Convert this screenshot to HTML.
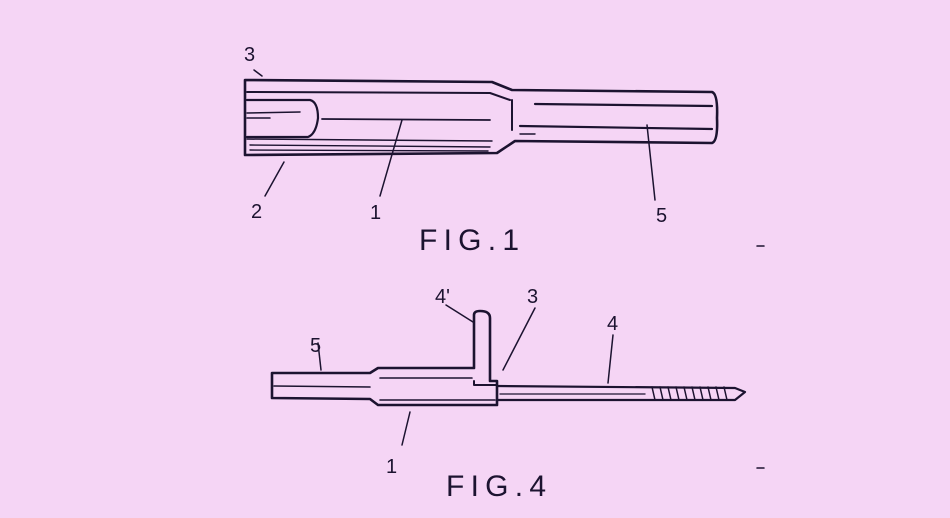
<!DOCTYPE html>
<html><head><style>
html,body{margin:0;padding:0;background:#f5d5f5;}
svg{display:block}
text{font-family:"Liberation Sans","DejaVu Sans",sans-serif;fill:#1c1330}
</style></head><body>
<svg width="950" height="518" viewBox="0 0 950 518" xmlns="http://www.w3.org/2000/svg">
<rect width="950" height="518" fill="#f5d5f5"/>
<g fill="none" stroke="#1c1330" stroke-width="2.6" stroke-linejoin="round" stroke-linecap="round">
<path d="M245,80 L492,82 L512,90 L712,92 Q718,94 717,118 Q718,141 712,143 L515,141 L497,153 L245,155 Z"/>
<path d="M247,92 L490,93 L510,100" stroke-width="2"/>
<path d="M247,100 L310,100 Q318,102 318,118 Q316,134 308,137 L247,137" stroke-width="2.2"/>
<path d="M247,113 L300,112" stroke-width="1.5"/>
<path d="M247,118 L270,118" stroke-width="1.5"/>
<path d="M322,119 L490,120" stroke-width="1.8"/>
<path d="M247,139 L492,141" stroke-width="1.5"/>
<path d="M250,145 L490,147" stroke-width="1.4"/>
<path d="M250,150 L488,151" stroke-width="1.4"/>
<path d="M512,100 L512,130" stroke-width="2"/>
<path d="M535,104 L712,106" stroke-width="2.2"/>
<path d="M520,126 L712,129" stroke-width="2.2"/>
<path d="M520,134 L535,134" stroke-width="1.4"/>
<path d="M254,70 L262,76" stroke-width="1.5"/>
<path d="M265,196 L284,162" stroke-width="1.5"/>
<path d="M380,196 L402,120" stroke-width="1.5"/>
<path d="M655,200 L647,125" stroke-width="1.5"/>
<path d="M272,373 L370,373 L378,368 L474,368 L474,315 Q474,311 480,311 Q490,311 490,318 L490,381 L497,381 L497,405 L378,405 L370,399 L272,398 Z"/>
<path d="M474,381 L474,385 L497,385" stroke-width="2"/>
<path d="M274,386 L370,387" stroke-width="1.6"/>
<path d="M380,378 L472,378" stroke-width="1.6"/>
<path d="M380,400 L495,400" stroke-width="1.6"/>
<path d="M497,386 L735,388 L745,392 L735,400 L497,400" stroke-width="2.2"/>
<path d="M500,394 L645,394" stroke-width="1.3"/>
<path d="M652,387 l3,13 M660,387 l3,13 M668,387 l3,13 M676,387 l3,13 M684,387 l3,13 M692,387 l3,13 M700,387 l3,13 M708,387 l3,13 M716,387 l3,13 M724,387 l3,13" stroke-width="1.5"/>
<path d="M446,305 L473,322" stroke-width="1.5"/>
<path d="M535,308 L503,370" stroke-width="1.5"/>
<path d="M613,335 L608,383" stroke-width="1.5"/>
<path d="M318,343 L321,370" stroke-width="1.5"/>
<path d="M402,445 L410,412" stroke-width="1.5"/>
<path d="M757,246 L764,246" stroke-width="1.5"/>
<path d="M757,468 L764,468" stroke-width="1.5"/>
</g>
<g font-size="20">
<text x="244" y="61">3</text>
<text x="251" y="218">2</text>
<text x="370" y="219">1</text>
<text x="656" y="222">5</text>
<text x="435" y="303">4'</text>
<text x="527" y="303">3</text>
<text x="607" y="330">4</text>
<text x="310" y="352">5</text>
<text x="386" y="473">1</text>
</g>
<text x="419" y="250" font-size="30" textLength="100" lengthAdjust="spacing">FIG.1</text>
<text x="446" y="496" font-size="30" textLength="100" lengthAdjust="spacing">FIG.4</text>
</svg>
</body></html>
